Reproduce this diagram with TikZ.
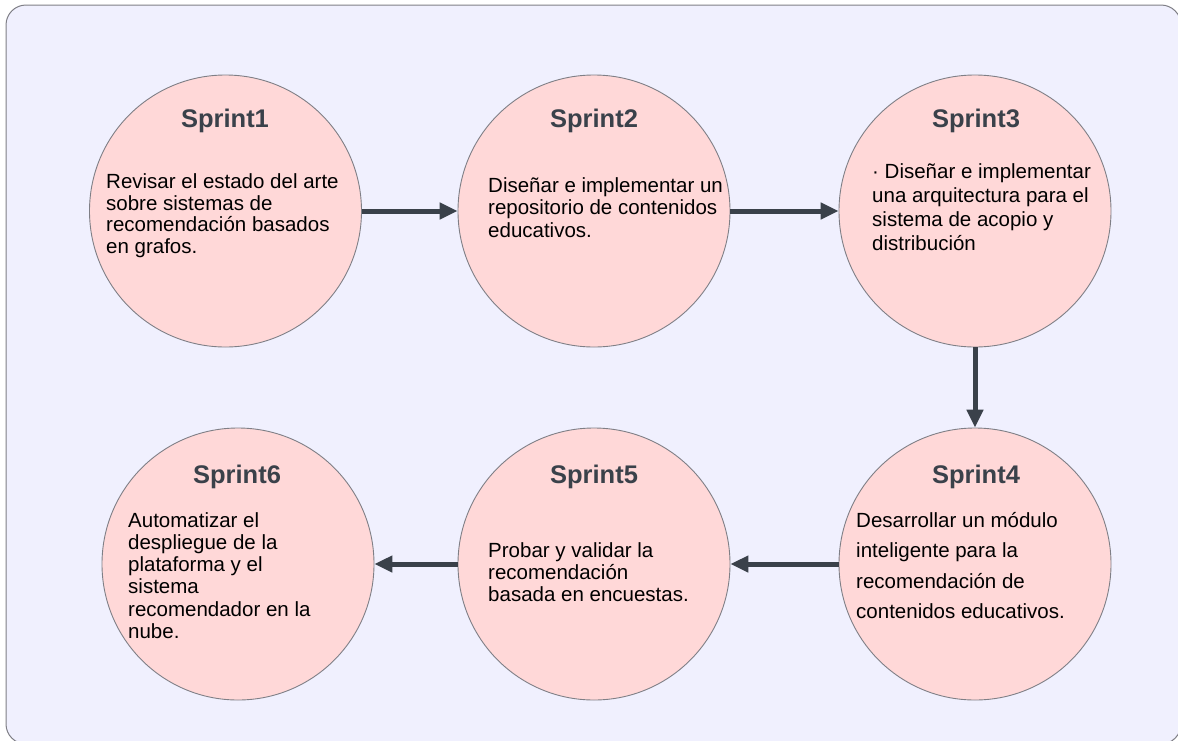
\documentclass[tikz,border=0pt]{standalone}
\usepackage{fontspec}
\setmainfont{Liberation Sans}
\usetikzlibrary{arrows.meta}
\definecolor{panel}{HTML}{F0F0FE}
\definecolor{sprintfill}{HTML}{FFD8D8}
\definecolor{rim}{HTML}{7F7F86}
\definecolor{ink}{HTML}{3A414A}
\begin{document}
\begin{tikzpicture}[x=1pt,y=-1pt,
  sprint/.style={circle, draw=rim, line width=0.9pt, fill=sprintfill,
                 minimum size=272pt, inner sep=0pt},
  title/.style={font=\fontsize{25.5}{30}\selectfont\bfseries, text=ink,
                anchor=base, inner sep=0pt},
  body/.style={align=left, anchor=north west, inner sep=0pt},
  flow/.style={draw=ink, line width=5pt,
               -{Triangle[length=18pt,width=16pt]}}]
\useasboundingbox (0,0) rectangle (1178,740);
% panel behind the sprints
\path[draw=rim, fill=panel, line width=1pt, rounded corners=20pt]
  (6,5) rectangle (1181,744);

% sprint circles
\node[sprint] (s1) at (225.5,211) {};
\node[sprint] (s2) at (594,211) {};
\node[sprint] (s3) at (975,211) {};
\node[sprint] (s4) at (975,564) {};
\node[sprint] (s5) at (594,564) {};
\node[sprint] (s6) at (238,564) {};

% titles
\node[title] (h1) at (225,127) {Sprint1};
\node[title] (h2) at (594,127) {Sprint2};
\node[title] (h3) at (976,127) {Sprint3};
\node[title] (h4) at (976,483) {Sprint4};
\node[title] (h5) at (594,483) {Sprint5};
\node[title] (h6) at (237,483) {Sprint6};

% descriptions (a 20pt strut fixes the first baseline)
\node[body, font=\fontsize{20.5}{21.8}\selectfont] (b1) at (106,168)
  {\rule{0pt}{20pt}Revisar el estado del arte\\sobre sistemas de\\recomendación basados\\en grafos.};
\node[body, font=\fontsize{20.5}{22.5}\selectfont] (b2) at (488,172)
  {\rule{0pt}{20pt}Diseñar e implementar un\\repositorio de contenidos\\educativos.};
\node[body, font=\fontsize{20.5}{24}\selectfont] (b3) at (872,158)
  {\rule{0pt}{20pt}· Diseñar e implementar\\una arquitectura para el\\sistema de acopio y\\distribución};
\node[body, font=\fontsize{20.5}{30.5}\selectfont] (b4) at (856,507)
  {\rule{0pt}{20pt}Desarrollar un módulo\\inteligente para la\\recomendación de\\contenidos educativos.};
\node[body, font=\fontsize{20.5}{22}\selectfont] (b5) at (488,537)
  {\rule{0pt}{20pt}Probar y validar la\\recomendación\\basada en encuestas.};
\node[body, font=\fontsize{20.5}{22.2}\selectfont] (b6) at (128,507)
  {\rule{0pt}{20pt}Automatizar el\\despliegue de la\\plataforma y el\\sistema\\recomendador en la\\nube.};

% flow between sprints
\draw[flow] (s1) -- (s2);
\draw[flow] (s2) -- (s3);
\draw[flow] (s3) -- (s4);
\draw[flow] (s4) -- (s5);
\draw[flow] (s5) -- (s6);
\end{tikzpicture}
\end{document}
